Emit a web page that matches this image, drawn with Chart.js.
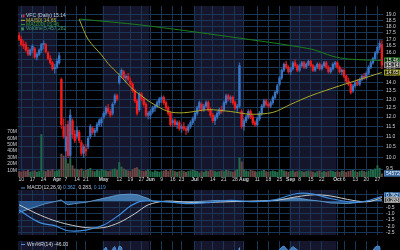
<!DOCTYPE html>
<html><head><meta charset="utf-8">
<script src="https://cdn.jsdelivr.net/npm/chart.js@4.4.1/dist/chart.umd.min.js"></script>
<style>
html,body{margin:0;padding:0;background:#000;overflow:hidden;width:400px;height:250px}
canvas{position:absolute;left:0;display:block}
</style></head><body>
<canvas id="main" width="400" height="184" style="top:0"></canvas>
<canvas id="macd" width="400" height="57" style="top:184px"></canvas>
<canvas id="wr" width="400" height="60" style="top:241px"></canvas>
<script>
// ---------- DATA ----------
const dates = ['3/7','3/10','3/11','3/12','3/13','3/14','3/17','3/18','3/19','3/20','3/21','3/24','3/25','3/26','3/27','3/28','3/31',
'4/1','4/2','4/3','4/4','4/7','4/8','4/9','4/10','4/11','4/14','4/15','4/16','4/17','4/21','4/22','4/23','4/24','4/25','4/28','4/29','4/30',
'5/1','5/2','5/5','5/6','5/7','5/8','5/9','5/12','5/13','5/14','5/15','5/16','5/19','5/20','5/21','5/22','5/23','5/27','5/28','5/29','5/30',
'6/2','6/3','6/4','6/5','6/6','6/9','6/10','6/11','6/12','6/13','6/16','6/17','6/18','6/20','6/23','6/24','6/25','6/26','6/27','6/30',
'7/1','7/2','7/3','7/7','7/8','7/9','7/10','7/11','7/14','7/15','7/16','7/17','7/18','7/21','7/22','7/23','7/24','7/25','7/28','7/29','7/30','7/31',
'8/1','8/4','8/5','8/6','8/7','8/8','8/11','8/12','8/13','8/14','8/15','8/18','8/19','8/20','8/21','8/22','8/25','8/26','8/27','8/28','8/29',
'9/2','9/3','9/4','9/5','9/8','9/9','9/10','9/11','9/12','9/15','9/16','9/17','9/18','9/19','9/22','9/23','9/24','9/25','9/26','9/29','9/30',
'10/1','10/2','10/3','10/6','10/7','10/8','10/9','10/10','10/13','10/14','10/15','10/16','10/17','10/20','10/21','10/22','10/23','10/24','10/27','10/28','10/29'];

const openP = [17.3,17.0,16.6,16.6,16.2,15.9,16.2,16.3,15.7,15.9,16.2,16.6,16.6,16.0,15.6,15.3,14.9,15.0,15.3,14.2,
11.5,10.3,11.6,10.1,11.8,11.1,11.0,11.2,10.7,10.2,10.4,10.5,11.0,11.4,11.2,11.3,11.6,11.7,12.0,12.2,
12.5,12.3,12.2,12.8,13.2,14.0,14.5,14.7,14.3,14.4,14.1,13.9,13.5,12.9,12.4,13.3,13.0,12.7,12.1,12.1,
12.3,12.5,12.6,12.8,13.0,13.1,12.8,12.5,12.2,11.7,11.8,11.6,11.7,11.4,11.5,11.4,11.3,11.5,11.7,11.9,
12.2,12.5,12.7,12.4,12.6,12.8,12.4,12.1,11.8,12.0,12.2,12.4,12.4,12.8,13.2,13.0,13.1,12.8,12.5,12.6,
12.3,11.5,11.8,12.0,12.3,12.0,11.7,11.6,11.9,12.2,12.6,12.9,12.7,12.6,12.8,13.1,13.4,13.9,14.3,14.8,
15.2,15.0,14.7,14.9,15.3,15.1,14.8,15.1,15.3,15.0,15.2,15.4,15.1,14.8,15.0,15.2,14.9,15.1,15.3,15.0,
14.7,14.9,15.2,15.3,15.0,14.7,14.8,14.4,14.1,13.9,13.5,13.8,14.0,13.9,14.2,14.4,14.3,14.6,15.0,15.3,
15.6,16.0,16.4,16.6];
const highP = [17.5,17.2,16.9,16.8,16.4,16.3,16.6,16.4,16.0,16.3,16.7,16.9,16.7,16.1,15.8,15.4,15.2,15.6,16.0,14.3,
11.9,11.6,11.8,12.4,11.9,11.3,11.5,11.3,10.8,10.6,10.6,11.0,11.6,11.5,11.4,11.7,11.9,12.0,12.3,12.6,
12.7,12.4,12.8,13.3,13.3,14.6,14.9,14.8,14.5,14.6,14.3,14.0,13.6,13.0,13.4,13.4,13.1,12.8,12.3,12.4,
12.6,12.7,12.9,13.1,13.2,13.2,12.9,12.6,12.3,11.9,11.9,11.8,11.8,11.6,11.7,11.5,11.6,11.8,12.0,12.3,
12.6,12.9,12.8,12.7,12.9,12.9,12.5,12.2,12.1,12.3,12.5,12.6,12.9,13.3,13.3,13.2,13.2,12.9,12.7,15.3,
12.4,11.9,12.1,12.4,12.4,12.1,11.8,12.0,12.3,12.7,13.0,13.0,12.8,12.9,13.2,13.5,13.9,14.4,14.9,15.3,
15.4,15.1,15.0,15.4,15.5,15.2,15.2,15.4,15.4,15.3,15.5,15.5,15.2,15.1,15.3,15.3,15.2,15.4,15.4,15.1,
15.0,15.3,15.4,15.4,15.1,14.9,14.9,14.5,14.3,14.0,13.9,14.1,14.2,14.3,14.5,14.6,14.7,15.1,15.4,15.7,
16.1,16.5,16.9,16.9];
const lowP = [16.9,16.5,16.3,16.1,15.8,15.8,16.0,15.6,15.5,15.8,16.0,16.3,16.0,15.5,15.2,14.8,14.6,14.9,15.2,11.4,
10.9,9.9,10.0,10.0,10.9,10.7,10.9,10.7,10.1,10.0,10.1,10.4,10.9,11.1,11.0,11.2,11.5,11.5,11.9,12.1,
12.2,12.0,12.1,12.7,12.9,13.9,14.3,14.2,14.0,14.1,13.8,13.4,12.8,12.1,12.3,12.9,12.6,12.0,11.9,11.9,
12.2,12.3,12.5,12.6,12.8,12.7,12.4,12.1,11.5,11.5,11.5,11.4,11.3,11.2,11.3,11.1,11.2,11.4,11.6,11.8,
12.1,12.4,12.3,12.3,12.5,12.3,12.0,11.7,11.6,11.9,12.1,12.2,12.3,12.7,12.9,12.8,12.7,12.4,12.3,12.5,
11.4,11.3,11.7,11.9,11.9,11.6,11.5,11.5,11.8,12.1,12.5,12.6,12.5,12.5,12.7,13.0,13.3,13.8,14.2,14.7,
14.9,14.6,14.5,14.8,15.0,14.7,14.7,15.0,14.9,14.9,15.1,15.0,14.7,14.7,14.9,14.8,14.8,15.0,14.9,14.6,
14.6,14.8,15.0,14.9,14.6,14.5,14.3,14.0,13.8,13.3,13.4,13.7,13.8,13.8,14.1,14.2,14.2,14.5,14.9,15.2,
15.5,15.9,16.2,14.9];
const closeP = [17.0,16.6,16.5,16.2,15.9,16.2,16.5,15.7,15.9,16.2,16.6,16.7,16.1,15.6,15.3,14.9,15.0,15.4,15.8,11.6,
11.0,11.0,10.1,12.1,11.1,10.8,11.3,10.8,10.2,10.5,10.3,10.9,11.5,11.2,11.3,11.6,11.8,11.9,12.2,12.5,
12.3,12.1,12.7,13.2,13.0,14.4,14.8,14.3,14.4,14.2,13.9,13.5,12.9,12.2,13.3,13.0,12.7,12.1,12.2,12.3,
12.5,12.6,12.8,13.0,13.1,12.8,12.5,12.2,11.6,11.8,11.6,11.7,11.4,11.5,11.4,11.3,11.5,11.7,11.9,12.2,
12.5,12.8,12.4,12.6,12.8,12.4,12.1,11.8,12.0,12.2,12.4,12.3,12.8,13.2,13.0,13.1,12.8,12.5,12.6,15.1,
11.5,11.8,12.0,12.3,12.0,11.7,11.6,11.9,12.2,12.6,12.9,12.7,12.6,12.8,13.1,13.4,13.8,14.3,14.8,15.2,
15.0,14.7,14.9,15.3,15.1,14.8,15.1,15.3,15.0,15.2,15.4,15.1,14.8,15.0,15.2,14.9,15.1,15.3,15.0,14.7,
14.9,15.2,15.3,15.0,14.7,14.8,14.4,14.1,13.9,13.4,13.8,14.0,13.9,14.2,14.4,14.3,14.6,15.0,15.3,15.6,
16.0,16.4,16.7,15.14];
// volume in millions
const volumeM = [9,8,10,9,11,8,9,10,8,9,66,10,9,11,10,12,9,10,11,36,
33,27,21,29,18,13,12,11,13,10,11,12,14,10,9,11,10,12,11,10,
9,10,12,13,11,23,16,13,11,10,9,12,14,15,11,10,9,10,12,9,
8,10,9,8,9,10,11,9,12,10,9,8,9,10,9,8,9,10,11,10,
9,7,9,8,10,9,11,10,9,8,9,10,9,11,10,9,8,10,12,30,
24,12,10,9,11,10,9,8,9,10,11,9,8,9,10,9,8,11,12,10,
9,8,9,10,8,9,10,9,8,9,10,9,8,7,9,10,8,9,8,9,
10,9,8,9,8,10,9,8,9,10,11,9,8,9,10,9,8,10,12,11,
13,18,14,5.457282];

// moving averages (read at key dates)
const ma50Dates = ['4/15','4/22','4/30','5/5','5/12','5/20','5/27','6/2','6/12','6/24','7/10','7/24','8/6','8/20','9/2','9/15','10/2','10/15','10/29'];
const ma50Vals  = [18.6,17.0,15.85,15.25,14.5,13.6,13.2,12.82,12.3,12.23,12.4,12.3,12.15,12.25,12.7,13.2,13.8,14.2,14.65];
const ma200Dates = ['4/15','5/27','7/23','9/15','9/29','10/8','10/29'];
const ma200Vals  = [18.62,18.12,17.21,16.28,15.75,15.56,15.46];

// MACD panel (read at key dates)
const macdDates = ['3/7','3/14','3/21','3/31','4/8','4/21','5/1','5/12','5/19','5/27','6/11','6/26','7/11','7/24','8/8','8/21','9/5','9/16','9/26','10/10','10/20','10/29'];
const macdVals  = [-0.7,-1.3,-1.75,-1.95,-2.35,-2.3,-1.9,-1.1,-0.4,0.0,-0.05,-0.2,-0.1,0.05,-0.05,0.1,0.6,0.55,0.2,-0.1,0.0,0.362];
const signalDates = ['3/7','3/19','3/28','4/8','4/21','5/1','5/12','5/21','5/30','6/11','6/26','7/11','7/24','8/8','8/21','9/5','9/17','9/26','10/10','10/21','10/29'];
const signalVals  = [-0.3,-1.0,-1.5,-1.85,-2.1,-2.1,-1.7,-1.0,-0.3,0.0,-0.1,-0.1,-0.05,0.0,0.05,0.35,0.5,0.4,0.05,-0.05,0.283];
const histDates = ['3/7','3/14','3/25','3/31','4/3','4/4','4/8','4/11','4/21','4/28','5/5','5/12','5/19','5/22','5/30','6/3','6/17','7/1','7/16','7/30','8/13','8/25','9/5','9/12','9/19','9/26','10/8','10/17','10/24','10/29'];
const histVals  = [-0.9,-0.6,-0.2,-0.05,0.1,-0.1,-0.3,-0.2,-0.1,0.1,0.3,0.5,0.55,0.5,0.2,0.0,-0.1,-0.05,0.05,-0.05,0.0,0.1,0.25,0.1,0.0,-0.15,-0.2,-0.05,0.05,0.119];

// Williams %R (read at key dates)
const wrDates = ['3/7','3/14','3/21','3/28','4/3','4/9','4/16','4/24','4/29','5/1','5/2','5/5','5/6','5/7','5/8','5/9','5/12','5/13','5/14','5/21','5/29','6/6','6/13','6/25','7/3','7/11','7/21','7/25','7/30','7/31','8/11','8/18','8/22','8/26','8/27','8/29','9/3','9/5','9/9','9/12','9/17','9/26','10/9','10/17','10/22','10/24','10/27','10/28','10/29'];
const wrVals  = [-40,-70,-45,-85,-95,-60,-85,-50,-20,-8,-3,-12,-18,-6,-2,-15,-1,-3,-25,-70,-60,-35,-85,-70,-30,-70,-25,-50,-4,-60,-70,-40,-12,-3,-1,-10,-2,-8,-15,-12,-40,-45,-90,-50,-15,-3,-1,-2,-46];

// axis ticks & labels
const xTickDates = ['3/10','3/17','3/24','4/1','4/7','4/14','4/21','5/1','5/12','5/19','5/27','6/2','6/9','6/16','6/23','7/1','7/7','7/14','7/21','7/28','8/1','8/11','8/18','8/25','9/2','9/8','9/15','9/22','10/1','10/6','10/13','10/20','10/27'];
const xTickText  = ['10','17','24','Apr','7','14','21','May','12','19','27','Jun','9','16','23','Jul','7','14','21','28','Aug','11','18','25','Sep','8','15','22','Oct','6','13','20','27'];
const monthStarts = ['3/7','4/1','5/1','6/2','7/1','8/1','9/2','10/1'];
const priceTicks = [9.5,10,10.5,11,11.5,12,12.5,13,13.5,14,14.5,15,15.5,16,16.5,17,17.5,18,18.5,19];
const volTicks = [10,20,30,40,50,60,70];
const macdTicks = [0.5,0,-0.5,-1,-1.5,-2,-2.5];

const lastClose = 15.14, lastMA50 = 14.65, lastMA200 = 15.46, lastVolume = 5457282;
const macdLabel = [0.362, 0.283, 0.119];
const wrLast = -46.00;

// ---------- STYLE ----------
const FONT = "'Liberation Sans', Arial, sans-serif";
const GRID = '#1a3656';
const NAVY = '#15152b';
const TXT = '#cfd3da';
const UP = '#3a74c4', DOWN = '#f21c1c';
const UPW = '#2f5f9e', DOWNW = '#c01818';
const VUP = '#226a4a', VDOWN = '#6c4444';

const tickMap = {};
xTickDates.forEach((d,i)=>{ tickMap[dates.indexOf(d)] = xTickText[i]; });
const monthIdx = new Set(xTickText.map((t,i)=>isNaN(+t)?dates.indexOf(xTickDates[i]):-1));

const isUp = openP.map((o,i)=>closeP[i]>=o);

function xAxis(showLabels){
  return {
    type:'category', offset:true,
    grid:{offset:false, drawTicks:false, lineWidth:1,
      color:(c)=> (c.index in tickMap) ? GRID : 'rgba(0,0,0,0)'},
    border:{display:false},
    ticks:{display:showLabels, autoSkip:false, maxRotation:0, minRotation:0, padding:0, color:TXT,
      font:(c)=>({family:FONT, size:5, weight: monthIdx.has(c.index)?'bold':'normal'}),
      callback:(v,i)=> tickMap[i] || ''},
    afterFit:(s)=>{ s.height = showLabels ? 7 : 0; }
  };
}

const bgPlugin = {
  id:'bg',
  beforeDraw(chart){
    const {ctx, chartArea:a} = chart;
    const xs = chart.scales.x;
    ctx.save();
    ctx.fillStyle = '#000';
    ctx.fillRect(0,0,chart.width,chart.height);
    const half = (xs.getPixelForValue(1)-xs.getPixelForValue(0))/2;
    monthStarts.forEach((d,i)=>{
      if (i%2) return;
      const x0 = Math.max(a.left, xs.getPixelForValue(dates.indexOf(d)) - half);
      const x1 = i+1<monthStarts.length ? xs.getPixelForValue(dates.indexOf(monthStarts[i+1])) - half : a.right;
      ctx.fillStyle = NAVY;
      ctx.fillRect(x0, a.top, x1-x0, a.bottom-a.top);
    });
    ctx.restore();
  }
};

function box(ctx, x, y, text, bg, border, fg){
  ctx.font = `5px ${FONT}`;
  const w = 16, h = 6;
  ctx.fillStyle = bg; ctx.fillRect(x, y-h/2, w, h);
  ctx.strokeStyle = border; ctx.lineWidth = 0.8; ctx.strokeRect(x+0.5, y-h/2+0.5, w-1, h-1);
  ctx.fillStyle = fg; ctx.textBaseline='middle'; ctx.textAlign='left';
  ctx.fillText(text, x+2, y+0.3);
}

const mainDeco = {
  id:'mainDeco',
  afterDraw(chart){
    const {ctx, chartArea:a} = chart;
    const y = chart.scales.y, yv = chart.scales.yv;
    ctx.save();
    box(ctx, a.right+1, y.getPixelForValue(lastMA200), lastMA200.toFixed(2), '#0d2a0d', '#2f9a2f', '#e8f0e8');
    box(ctx, a.right+1, y.getPixelForValue(lastMA50), lastMA50.toFixed(2), '#2a2a08', '#b8b830', '#f0f0d0');
    box(ctx, a.right+1, y.getPixelForValue(lastClose), lastClose.toFixed(2), '#3a3a3a', '#9a9a9a', '#ffffff');
    box(ctx, a.right+1, yv.getPixelForValue(lastVolume/1e6), String(lastVolume), '#2f5f96', '#5a8ac0', '#ffffff');
    // legend
    ctx.font = `5px ${FONT}`; ctx.textBaseline='middle'; ctx.textAlign='left';
    const lx = a.left+3, ly = 16, dy = 4.3;
    ctx.fillStyle = UP; ctx.fillRect(lx, ly-1.5, 1.5, 3);
    ctx.fillStyle = DOWN; ctx.fillRect(lx+2, ly-1.5, 1.5, 3);
    ctx.fillStyle = '#c8cedb'; ctx.fillText(`VFC (Daily) ${lastClose.toFixed(2)}`, lx+5, ly);
    ctx.fillStyle = '#b8b830'; ctx.fillRect(lx, ly+dy-0.5, 4, 1);
    ctx.fillText(`MA(50) ${lastMA50.toFixed(2)}`, lx+5, ly+dy);
    ctx.fillStyle = '#2f9a2f'; ctx.fillRect(lx, ly+2*dy-0.5, 4, 1);
    ctx.fillText(`MA(200) ${lastMA200.toFixed(2)}`, lx+5, ly+2*dy);
    ctx.fillStyle = '#2a8a5a'; ctx.fillRect(lx, ly+3*dy-1.5, 3, 3);
    ctx.fillStyle = '#3aa070';
    ctx.fillText(`Volume ${lastVolume.toLocaleString('en-US')}`, lx+5, ly+3*dy);
    ctx.restore();
  }
};

const common = {
  responsive:false, animation:false, events:[],
  plugins:{legend:{display:false}, tooltip:{enabled:false}}
};

new Chart(document.getElementById('main'), {
  type:'bar',
  data:{
    labels: dates,
    datasets:[
      {type:'line', data: ma50Dates.map((d,i)=>({x:d,y:ma50Vals[i]})), yAxisID:'y', borderColor:'#a9a92a', borderWidth:1, pointRadius:0, tension:0.3, order:0},
      {type:'line', data: ma200Dates.map((d,i)=>({x:d,y:ma200Vals[i]})), yAxisID:'y', borderColor:'#1d7f1d', borderWidth:1, pointRadius:0, tension:0.3, order:0},
      {type:'bar', data: openP.map((o,i)=>[o, closeP[i]]), yAxisID:'y', grouped:false, barThickness:1.7,
        backgroundColor: isUp.map(u=>u?UP:DOWN), order:2},
      {type:'bar', data: lowP.map((l,i)=>[l, highP[i]]), yAxisID:'y', grouped:false, barThickness:0.8,
        backgroundColor: isUp.map(u=>u?UPW:DOWNW), order:3},
      {type:'bar', data: volumeM, yAxisID:'yv', grouped:false, barPercentage:0.9, categoryPercentage:1,
        backgroundColor: isUp.map(u=>u?VUP:VDOWN), order:5}
    ]
  },
  options:{...common,
    layout:{padding:0},
    scales:{
      x: xAxis(true),
      y:{type:'logarithmic', position:'right', min:9.17, max:19.74,
        afterBuildTicks:(s)=>{ s.ticks = priceTicks.map(v=>({value:v})); },
        afterFit:(s)=>{ s.width = 17; },
        grid:{color:GRID, drawTicks:false}, border:{display:false},
        ticks:{color:TXT, padding:3, autoSkip:false, font:{family:FONT,size:5}, callback:(v)=>Number(v).toFixed(1)}},
      yv:{type:'linear', position:'left', min:0, max:264,
        afterBuildTicks:(s)=>{ s.ticks = volTicks.map(v=>({value:v})); },
        afterFit:(s)=>{ s.width = 18; },
        grid:{display:false, drawTicks:false}, border:{display:false},
        ticks:{color:TXT, padding:1, autoSkip:false, font:{family:FONT,size:5}, callback:(v)=>v+'M'}}
    }
  },
  plugins:[bgPlugin, mainDeco]
});

const macdDeco = {
  id:'macdDeco',
  afterDraw(chart){
    const {ctx, chartArea:a} = chart; const y = chart.scales.y;
    ctx.save();
    box(ctx, a.right+1, y.getPixelForValue(macdLabel[0])-1, macdLabel[0].toFixed(3), '#1e4f86', '#5a9ad8', '#ffffff');
    box(ctx, a.right+1, y.getPixelForValue(macdLabel[1])+2.5, macdLabel[1].toFixed(3), '#444', '#aaa', '#ffffff');
    ctx.font = `5px ${FONT}`; ctx.textBaseline='middle'; ctx.textAlign='left';
    const lx = a.left+3, ly = 4;
    ctx.fillStyle = '#4a90d8'; ctx.fillRect(lx, ly-0.5, 4, 1);
    let x = lx+6;
    const parts = [['MACD(12,26,9) ', '#d8dce4'], [macdLabel[0].toFixed(3)+', ', '#5aa0e8'], [macdLabel[1].toFixed(3)+', ', '#d8dce4'], [macdLabel[2].toFixed(3), '#4a90d8']];
    parts.forEach(([t,c])=>{ ctx.fillStyle=c; ctx.fillText(t,x,ly); x += ctx.measureText(t).width; });
    ctx.restore();
  }
};

new Chart(document.getElementById('macd'), {
  type:'line',
  data:{ labels: dates, datasets:[
    {data: histDates.map((d,i)=>({x:d,y:histVals[i]})), borderColor:'#6aa6dc', borderWidth:0.8, pointRadius:0,
      fill:{target:'origin', above:'rgba(74,134,192,0.85)', below:'rgba(42,96,156,0.85)'}, order:3},
    {data: signalDates.map((d,i)=>({x:d,y:signalVals[i]})), borderColor:'#c9c9c9', borderWidth:1, pointRadius:0, tension:0.3, order:2},
    {data: macdDates.map((d,i)=>({x:d,y:macdVals[i]})), borderColor:'#3f8fe2', borderWidth:1.2, pointRadius:0, tension:0.3, order:1}
  ]},
  options:{...common,
    layout:{padding:{left:18}},
    scales:{
      x: xAxis(false),
      y:{type:'linear', position:'right', min:-2.6875, max:0.875,
        afterBuildTicks:(s)=>{ s.ticks = macdTicks.map(v=>({value:v})); },
        afterFit:(s)=>{ s.width = 17; },
        grid:{color:GRID, drawTicks:false}, border:{display:false},
        ticks:{color:TXT, padding:3, autoSkip:false, font:{family:FONT,size:5}, callback:(v)=>Number(v).toFixed(1)}}
    }
  },
  plugins:[bgPlugin, macdDeco]
});

const wrDeco = {
  id:'wrDeco',
  afterDraw(chart){
    const {ctx, chartArea:a} = chart;
    ctx.save();
    ctx.font = `5px ${FONT}`; ctx.textBaseline='middle'; ctx.textAlign='left';
    const lx = a.left+3, ly = 3.5;
    ctx.fillStyle = '#4a90d8'; ctx.fillRect(lx, ly-0.5, 4, 1);
    ctx.fillStyle = '#d8dce4'; ctx.fillText(`Wm%R(14) ${wrLast.toFixed(2)}`, lx+6, ly);
    ctx.restore();
  }
};

new Chart(document.getElementById('wr'), {
  type:'line',
  data:{ labels: dates, datasets:[
    {data: wrDates.map((d,i)=>({x:d,y:wrVals[i]})), borderColor:'#4a90d8', borderWidth:1, pointRadius:0,
      fill:{target:{value:-20}, above:'rgba(70,135,205,0.85)', below:'rgba(0,0,0,0)'}}
  ]},
  options:{...common,
    layout:{padding:{left:18, right:17}},
    scales:{
      x: xAxis(false),
      y:{type:'linear', display:true, position:'right', min:-100, max:8,
        afterFit:(s)=>{ s.width = 0; },
        grid:{display:false, drawTicks:false}, border:{display:false},
        ticks:{display:false}}
    }
  },
  plugins:[bgPlugin, wrDeco]
});
</script></body></html>
